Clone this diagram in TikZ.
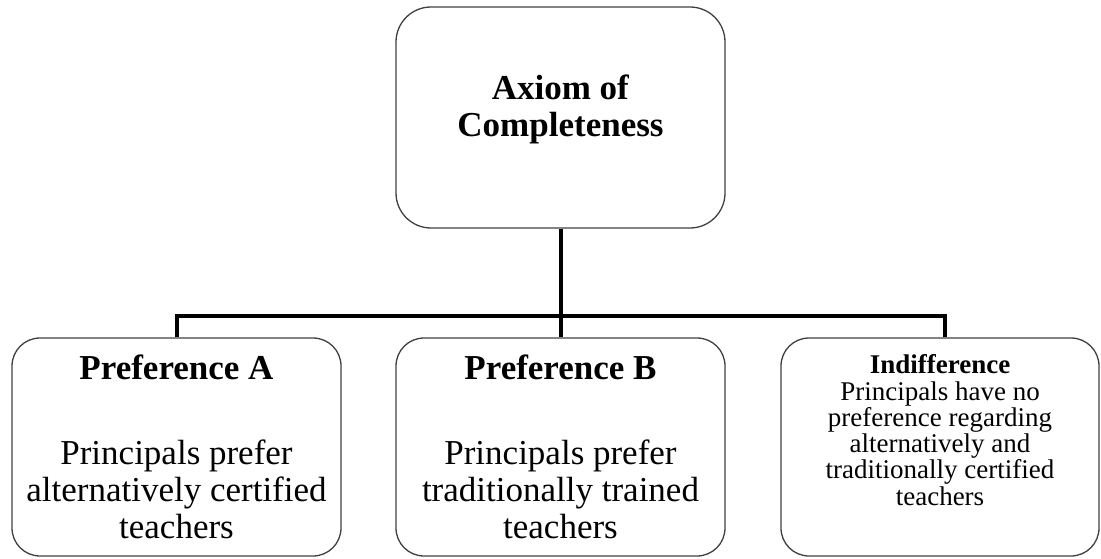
\documentclass[tikz,border=0pt]{standalone}
\usepackage{fontspec}
\setmainfont{Liberation Serif}
\tikzset{
  box/.style={draw=black!75, line width=1.3pt, rounded corners=28pt, align=center,
    minimum width=329pt, minimum height=218pt, inner sep=0pt,
    font=\fontsize{35}{37}\selectfont},
  link/.style={line width=4pt}
}
\begin{document}
\begin{tikzpicture}[x=1pt,y=-1pt]
\useasboundingbox (0,0) rectangle (1101,559);
\node[box, minimum height=221pt, rounded corners=35pt, text depth=23pt] (axiom) at (560.5,117.5) {\textbf{Axiom of}\\\textbf{Completeness}};
\node[box] (prefA) at (176.5,447) {\textbf{Preference A}\\[48pt]Principals prefer\\alternatively certified\\teachers};
\node[box] (prefB) at (560.5,447) {\textbf{Preference B}\\[48pt]Principals prefer\\traditionally trained\\teachers};
\node[box, minimum width=318pt, font=\fontsize{27}{26.3}\selectfont, text depth=34pt] (indiff) at (940,447) {\textbf{Indifference}\\Principals have no\\preference regarding\\alternatively and\\traditionally certified\\teachers};
\coordinate (bar) at (560.5,316);
\path[draw,link] (axiom) -- (prefB);
\path[draw,link] (prefA.north) |- (bar);
\path[draw,link] ([xshift=5pt]indiff.north) |- (bar);
\end{tikzpicture}
\end{document}
